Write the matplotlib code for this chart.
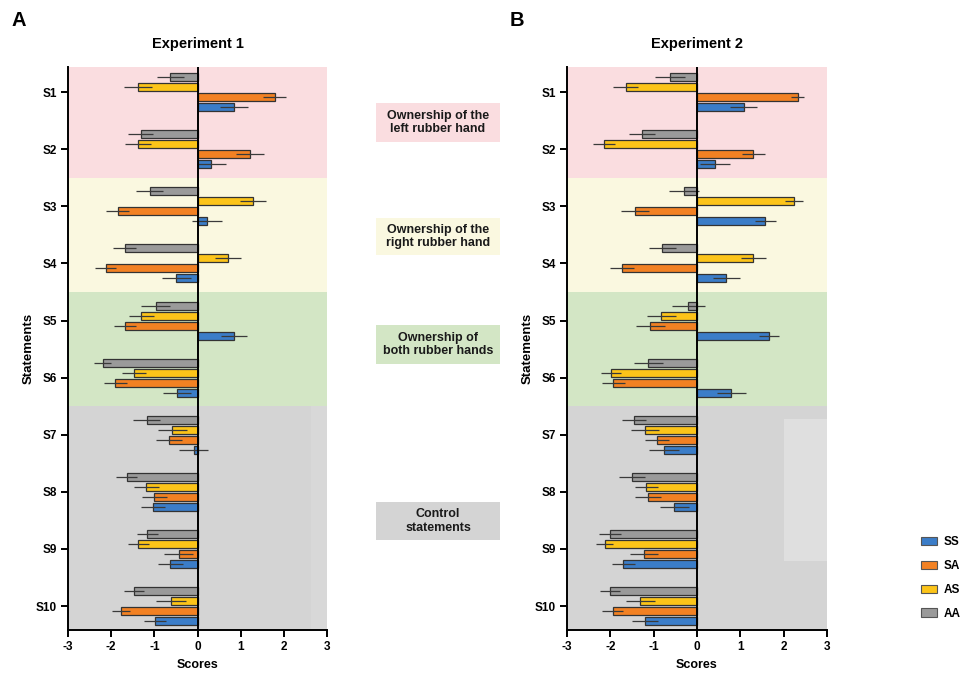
import matplotlib
matplotlib.use("Agg")
import matplotlib.pyplot as plt
from matplotlib.patches import Rectangle, Patch
import numpy as np

plt.rcParams['font.family'] = ['Liberation Sans', 'DejaVu Sans']

statements = ['S1', 'S2', 'S3', 'S4', 'S5', 'S6', 'S7', 'S8', 'S9', 'S10']
conditions = ['SS', 'SA', 'AS', 'AA']
colors = {'SS': '#3B7DC8', 'SA': '#F28123', 'AS': '#FCC419', 'AA': '#9A9A9A'}

exp1_SS = [0.84, 0.32, 0.22, -0.49, 0.85, -0.47, -0.09, -1.03, -0.63, -0.98]
exp1_SS_err = [0.33, 0.34, 0.34, 0.33, 0.30, 0.32, 0.34, 0.28, 0.29, 0.25]
exp1_SA = [1.79, 1.22, -1.85, -2.13, -1.68, -1.90, -0.66, -1.00, -0.44, -1.77]
exp1_SA_err = [0.27, 0.32, 0.27, 0.24, 0.26, 0.26, 0.31, 0.29, 0.33, 0.21]
exp1_AS = [-1.38, -1.38, 1.29, 0.71, -1.30, -1.47, -0.58, -1.19, -1.37, -0.61]
exp1_AS_err = [0.33, 0.30, 0.30, 0.30, 0.29, 0.27, 0.34, 0.29, 0.24, 0.34]
exp1_AA = [-0.63, -1.32, -1.11, -1.69, -0.97, -2.20, -1.18, -1.64, -1.16, -1.48]
exp1_AA_err = [0.31, 0.29, 0.31, 0.26, 0.33, 0.19, 0.32, 0.25, 0.25, 0.23]

exp2_SS = [1.08, 0.42, 1.58, 0.68, 1.66, 0.79, -0.76, -0.52, -1.70, -1.20]
exp2_SS_err = [0.31, 0.34, 0.24, 0.32, 0.23, 0.34, 0.34, 0.34, 0.26, 0.29]
exp2_SA = [2.32, 1.30, -1.43, -1.73, -1.08, -1.93, -0.92, -1.12, -1.22, -1.95]
exp2_SA_err = [0.16, 0.27, 0.32, 0.27, 0.33, 0.26, 0.28, 0.30, 0.32, 0.25]
exp2_AS = [-1.65, -2.14, 2.23, 1.30, -0.82, -1.98, -1.20, -1.17, -2.13, -1.31]
exp2_AS_err = [0.29, 0.25, 0.21, 0.29, 0.33, 0.23, 0.32, 0.27, 0.20, 0.33]
exp2_AA = [-0.63, -1.28, -0.30, -0.80, -0.20, -1.12, -1.45, -1.49, -2.01, -2.01]
exp2_AA_err = [0.35, 0.30, 0.35, 0.31, 0.38, 0.34, 0.28, 0.30, 0.25, 0.24]

x_ticks = [-3, -2, -1, 0, 1, 2, 3]

region_labels = ['Ownership of the\nleft rubber hand',
                 'Ownership of the\nright rubber hand',
                 'Ownership of\nboth rubber hands',
                 'Control\nstatements']
region_colors = ['#FADDE0', '#FAF8E0', '#D3E6C5', '#D4D4D4']
region_bounds = [(0.56, 2.5), (2.5, 4.5), (4.5, 6.5), (6.5, 10.42)]

fig = plt.figure(figsize=(9.66, 6.77), dpi=100)

offsets = {'AA': -0.2625, 'AS': -0.0875, 'SA': 0.0875, 'SS': 0.2625}
bar_h = 0.14


def draw_panel(ax, data, title, extra_light=None):
    y = np.arange(1, len(statements) + 1)
    for (lo, hi), c in zip(region_bounds, region_colors):
        ax.add_patch(Rectangle((-3, lo), 6, hi - lo, facecolor=c, edgecolor='none', zorder=0))
    if extra_light is not None:
        x0, y0, w, h, c = extra_light
        ax.add_patch(Rectangle((x0, y0), w, h, facecolor=c, edgecolor='none', zorder=0.5))
    for cond in ['AA', 'AS', 'SA', 'SS']:
        vals, errs = data[cond]
        yy = y + offsets[cond]
        ax.barh(yy, vals, height=bar_h, color=colors[cond], edgecolor='#333333',
                linewidth=0.9, zorder=2)
        ax.errorbar(vals, yy, xerr=errs, fmt='none', ecolor='#3a3a3a',
                    elinewidth=0.9, capsize=0, zorder=3)
    ax.axvline(0, color='black', lw=1.4, zorder=4)
    ax.set_xlim(-3, 3)
    ax.set_ylim(10.42, 0.56)
    ax.set_yticks(y)
    ax.set_yticklabels(statements, fontsize=8.5, fontweight='bold')
    ax.set_xticks(x_ticks)
    ax.set_xticklabels([str(t) for t in x_ticks], fontsize=8.5, fontweight='bold')
    for s in ['top', 'right']:
        ax.spines[s].set_visible(False)
    for s in ['left', 'bottom']:
        ax.spines[s].set_linewidth(1.4)
    ax.tick_params(axis='both', width=1.4, length=5, pad=3)
    ax.set_xlabel('Scores', fontsize=9, fontweight='bold', labelpad=4)
    ax.set_ylabel('Statements', fontsize=9.5, fontweight='bold', labelpad=1)
    ax.set_title(title, fontsize=10.5, fontweight='bold', pad=13.5)


ax1 = fig.add_axes([68 / 966, 47 / 677, 259 / 966, 563 / 677])
ax2 = fig.add_axes([567 / 966, 47 / 677, 260 / 966, 563 / 677])

data1 = {'SS': (exp1_SS, exp1_SS_err), 'SA': (exp1_SA, exp1_SA_err),
         'AS': (exp1_AS, exp1_AS_err), 'AA': (exp1_AA, exp1_AA_err)}
data2 = {'SS': (exp2_SS, exp2_SS_err), 'SA': (exp2_SA, exp2_SA_err),
         'AS': (exp2_AS, exp2_AS_err), 'AA': (exp2_AA, exp2_AA_err)}

draw_panel(ax1, data1, 'Experiment 1', extra_light=(2.64, 6.5, 0.36, 3.92, '#D8D8D8'))
draw_panel(ax2, data2, 'Experiment 2', extra_light=(2.0, 6.73, 1.0, 2.48, '#DFDFDF'))

# Panel letters
fig.text(12 / 966, 1 - 21 / 677, 'A', fontsize=14.5, fontweight='bold', va='center', ha='left')
fig.text(510 / 966, 1 - 21 / 677, 'B', fontsize=14.5, fontweight='bold', va='center', ha='left')

# Region label boxes
box_y = [(103, 142), (218, 255), (325, 364), (502, 540)]
bx0, bx1 = 376, 500
for (t0, t1), lbl, c in zip(box_y, region_labels, region_colors):
    fig.add_artist(Rectangle((bx0 / 966, 1 - t1 / 677), (bx1 - bx0) / 966, (t1 - t0) / 677,
                             facecolor=c, edgecolor='none', transform=fig.transFigure))
    fig.text((bx0 + bx1) / 2 / 966, 1 - (t0 + t1) / 2 / 677, lbl, ha='center', va='center',
             fontsize=9, fontweight='bold', linespacing=1.15, color='#1a1a1a')

# Legend
handles = [Patch(facecolor=colors[c], edgecolor='#555555', linewidth=0.8, label=c)
           for c in conditions]
fig.legend(handles=handles, loc='center left', bbox_to_anchor=(913 / 966, 1 - 578 / 677),
           frameon=False, prop={'size': 8.5, 'weight': 'bold'}, handlelength=1.3,
           handleheight=0.7, labelspacing=1.0, handletextpad=0.6, borderpad=0.2)

fig.savefig('out.png', dpi=100)
